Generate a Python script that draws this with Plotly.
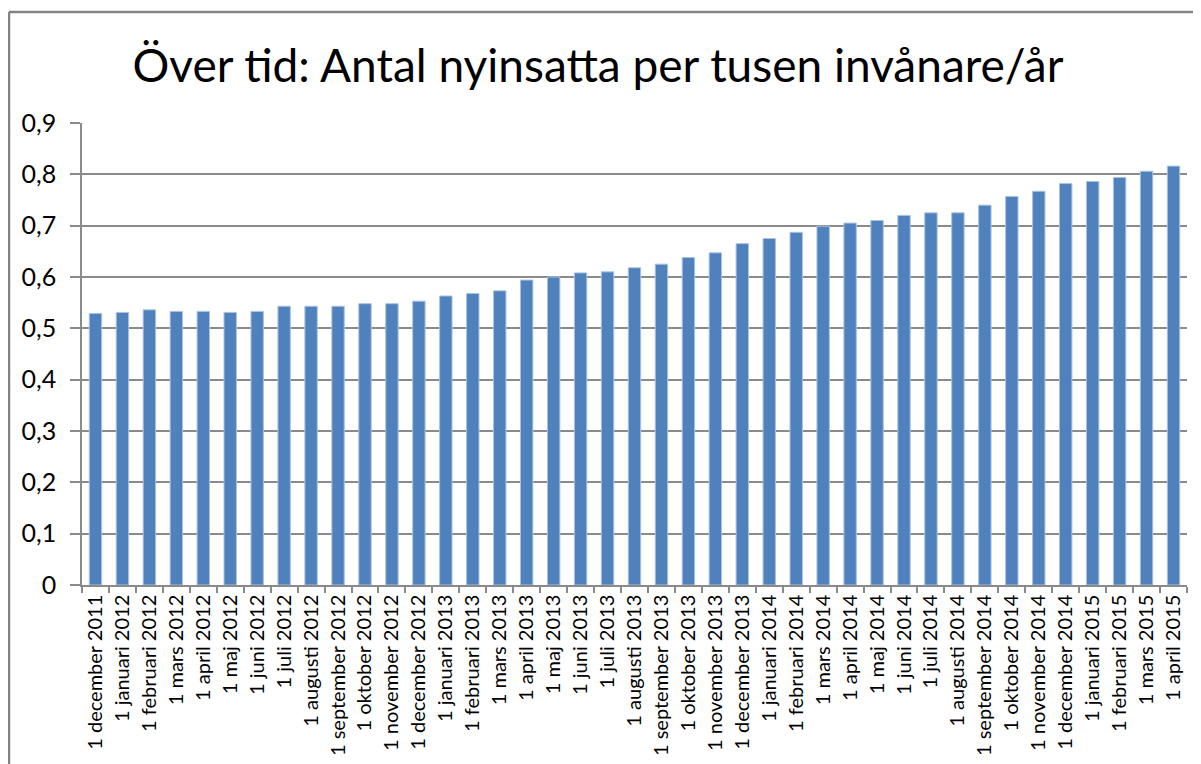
import plotly.graph_objects as go

categories = [
    "1 december 2011", "1 januari 2012", "1 februari 2012", "1 mars 2012", "1 april 2012",
    "1 maj 2012", "1 juni 2012", "1 juli 2012", "1 augusti 2012", "1 september 2012",
    "1 oktober 2012", "1 november 2012", "1 december 2012", "1 januari 2013", "1 februari 2013",
    "1 mars 2013", "1 april 2013", "1 maj 2013", "1 juni 2013", "1 juli 2013",
    "1 augusti 2013", "1 september 2013", "1 oktober 2013", "1 november 2013", "1 december 2013",
    "1 januari 2014", "1 februari 2014", "1 mars 2014", "1 april 2014", "1 maj 2014",
    "1 juni 2014", "1 juli 2014", "1 augusti 2014", "1 september 2014", "1 oktober 2014",
    "1 november 2014", "1 december 2014", "1 januari 2015", "1 februari 2015", "1 mars 2015",
    "1 april 2015",
]

values = [
    0.529, 0.531, 0.536, 0.533, 0.533,
    0.531, 0.533, 0.543, 0.543, 0.543,
    0.548, 0.548, 0.553, 0.563, 0.568,
    0.573, 0.594, 0.600, 0.608, 0.610,
    0.618, 0.625, 0.638, 0.647, 0.665,
    0.675, 0.687, 0.699, 0.705, 0.710,
    0.720, 0.725, 0.725, 0.740, 0.757,
    0.767, 0.782, 0.786, 0.794, 0.806,
    0.816,
]

y_tickvals = [0, 0.1, 0.2, 0.3, 0.4, 0.5, 0.6, 0.7, 0.8, 0.9]
y_ticktext = ["0", "0,1", "0,2", "0,3", "0,4", "0,5", "0,6", "0,7", "0,8", "0,9"]

title_text = "Över tid: Antal nyinsatta per tusen invånare/år"

# page has an 8px body margin; figure coordinates are page coordinates minus 8
OFF = 8
W, H = 1201 - OFF, 764 - OFF
PL, PR, PT, PB = 82, 1187, 123, 585  # plot area in page pixels
L, R, T, B = PL - OFF, W - (PR - OFF), PT - OFF, H - (PB - OFF)
pw, ph = W - L - R, H - T - B

def px_x(p):
    return (p - OFF - L) / pw

def px_y(p):
    return (H - B - (p - OFF)) / ph

font_family = "Lato, Open Sans, DejaVu Sans, sans-serif"
grid_col = "#8A8A8A"
border_col = "#828282"

fig = go.Figure(
    go.Bar(
        x=categories,
        y=values,
        marker=dict(color="#4F81BD", line=dict(color="#A9C2E0", width=1)),
        width=0.46,
    )
)

fig.update_layout(
    width=W,
    height=H,
    margin=dict(l=L, r=R, t=T, b=B, pad=0, autoexpand=False),
    paper_bgcolor="white",
    plot_bgcolor="white",
    showlegend=False,
    font=dict(family=font_family, color="black"),
    title=dict(
        text=title_text,
        x=(598 - OFF) / W,
        xanchor="center",
        xref="container",
        y=1 - (66 - OFF) / H,
        yanchor="middle",
        yref="container",
        font=dict(size=46, family=font_family, color="black"),
    ),
    shapes=[
        dict(type="line", xref="paper", yref="paper",
             x0=px_x(9), x1=px_x(9), y0=px_y(12), y1=px_y(800),
             line=dict(color=border_col, width=2.5)),
        dict(type="line", xref="paper", yref="paper",
             x0=px_x(9), x1=px_x(1240), y0=px_y(12), y1=px_y(12),
             line=dict(color=border_col, width=2.5)),
    ],
)

fig.update_xaxes(
    type="category",
    automargin=False,
    tickangle=-90,
    tickfont=dict(size=20, family=font_family, color="black"),
    showline=True,
    linecolor=grid_col,
    linewidth=1.5,
    ticks="outside",
    tickson="boundaries",
    ticklen=6,
    tickwidth=1.5,
    tickcolor=grid_col,
    showgrid=False,
    range=[-0.5, len(categories) - 0.5],
)

fig.update_yaxes(
    automargin=False,
    range=[0, 0.9],
    tickvals=y_tickvals,
    ticktext=y_ticktext,
    tickfont=dict(size=25, family=font_family, color="black"),
    showline=True,
    linecolor=grid_col,
    linewidth=1.5,
    ticks="outside",
    ticklen=10,
    tickwidth=1.5,
    tickcolor=grid_col,
    showgrid=True,
    gridcolor=grid_col,
    gridwidth=1.5,
    zeroline=False,
    ticklabelstandoff=9,
)

fig.write_html("out.html")
